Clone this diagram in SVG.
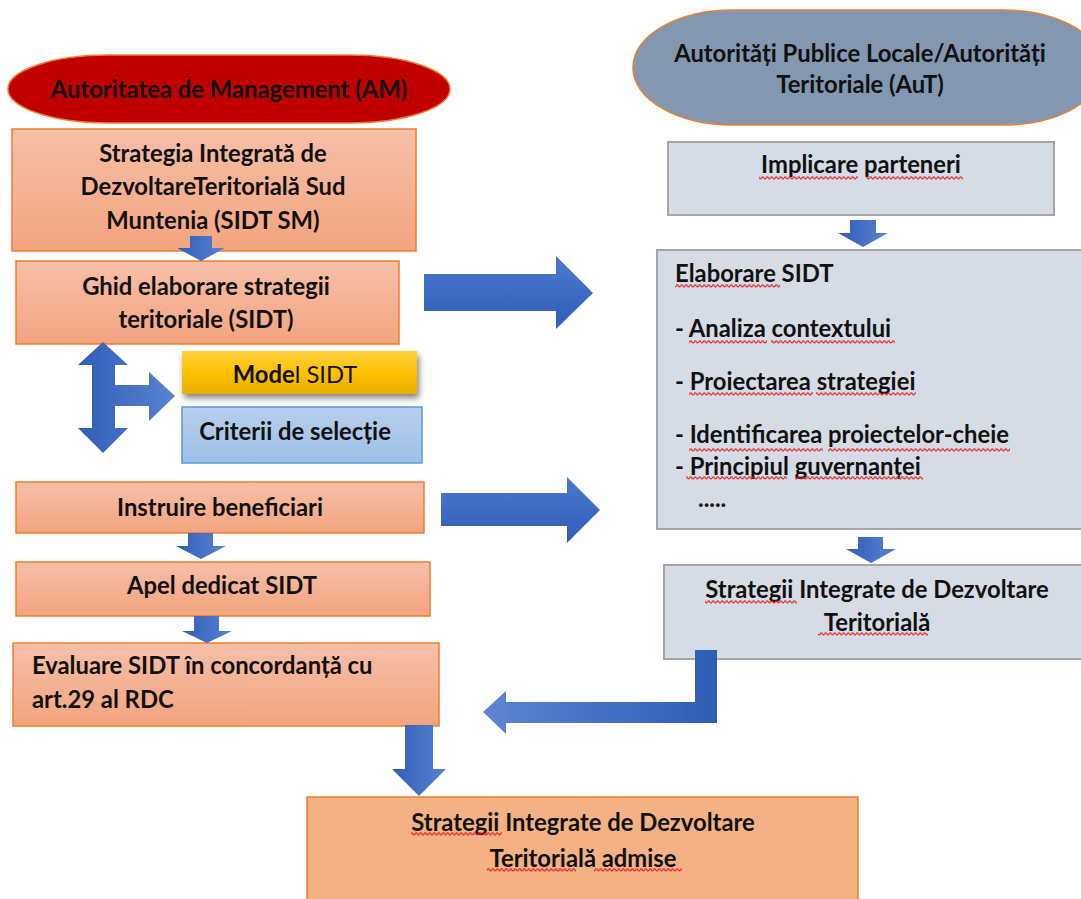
<svg xmlns="http://www.w3.org/2000/svg" width="1081" height="899" viewBox="0 0 1081 899">
<style>
text{font-family:Lato,"Open Sans","Liberation Sans",sans-serif;font-weight:700;font-size:23.8px;fill:#111}
.c{text-anchor:middle}
.or{stroke:#ED7D31;stroke-width:1.5}
.gr{fill:#D6DCE5;stroke:#A6A6A6;stroke-width:2}
.sq{fill:url(#wv)}
</style>
<defs>
<pattern id="wv" patternUnits="userSpaceOnUse" x="0" y="0" width="4.5" height="4">
<path d="M0,3 C1.1,3 1.1,0.8 2.25,0.8 C3.4,0.8 3.4,3 4.5,3" fill="none" stroke="#E81818" stroke-width="1.1"/>
</pattern>
<linearGradient id="gOr" x1="0" y1="0" x2="0" y2="1"><stop offset="0" stop-color="#F6BFA8"/><stop offset="1" stop-color="#F4A47F"/></linearGradient>
<linearGradient id="gGold" x1="0" y1="0" x2="0" y2="1"><stop offset="0" stop-color="#FFD13F"/><stop offset="0.5" stop-color="#FFC000"/><stop offset="1" stop-color="#E8B000"/></linearGradient>
<linearGradient id="gBl" x1="0" y1="0" x2="0" y2="1"><stop offset="0" stop-color="#B8CEEB"/><stop offset="1" stop-color="#9CBFE8"/></linearGradient>
<linearGradient id="aV" x1="0" y1="0" x2="0" y2="1"><stop offset="0" stop-color="#4B79CD"/><stop offset="1" stop-color="#2F5DB8"/></linearGradient>
<linearGradient id="aL" x1="0" y1="0" x2="1" y2="0"><stop offset="0" stop-color="#2F5DB8"/><stop offset="1" stop-color="#5A82D0"/></linearGradient>
<linearGradient id="aR" x1="0" y1="0" x2="1" y2="0"><stop offset="0" stop-color="#5E86D0"/><stop offset="1" stop-color="#2E5DB7"/></linearGradient>
<filter id="sh" x="-10%" y="-30%" width="125%" height="180%"><feGaussianBlur in="SourceAlpha" stdDeviation="3"/><feOffset dx="2" dy="4"/><feComponentTransfer><feFuncA type="linear" slope="0.5"/></feComponentTransfer><feMerge><feMergeNode/><feMergeNode in="SourceGraphic"/></feMerge></filter>
</defs>

<g id="node-am">
<rect x="8" y="55" width="442" height="68" rx="100" ry="34" fill="#C00000" class="or"/>
<text class="c" x="229" y="98">Autoritatea de Management (AM)</text>
</g>
<g id="node-sidt-sm">
<rect x="12" y="129" width="404" height="122" fill="url(#gOr)" class="or"/>
<text class="c" x="213" y="162">Strategia Integrată de</text>
<text class="c" x="213" y="195">DezvoltareTeritorială Sud</text>
<text class="c" x="213" y="229">Muntenia (SIDT SM)</text>
</g>
<g id="node-ghid">
<rect x="16" y="261" width="383" height="83" fill="url(#gOr)" class="or"/>
<text class="c" x="206" y="295">Ghid elaborare strategii</text>
<text class="c" x="206" y="328">teritoriale (SIDT)</text>
</g>
<g id="node-model">
<rect x="182" y="351" width="235" height="43" fill="url(#gGold)" filter="url(#sh)"/>
<text class="c" x="295" y="383">Mode<tspan font-weight="400">l SIDT</tspan></text>
</g>
<g id="node-criterii">
<rect x="182" y="407" width="240" height="56" fill="url(#gBl)" stroke="#5B9BD5" stroke-width="1.5"/>
<text class="c" x="295" y="440">Criterii de selecție</text>
</g>
<g id="node-instruire">
<rect x="16" y="482" width="408" height="51" fill="url(#gOr)" class="or"/>
<text class="c" x="220" y="516">Instruire beneficiari</text>
</g>
<g id="node-apel">
<rect x="16" y="562" width="414" height="54" fill="url(#gOr)" class="or"/>
<text class="c" x="222" y="594">Apel dedicat SIDT</text>
</g>
<g id="node-evaluare">
<rect x="13" y="643" width="426" height="83" fill="url(#gOr)" class="or"/>
<text x="32" y="674">Evaluare SIDT în concordanță cu</text>
<text x="32" y="708">art.29 al RDC</text>
</g>
<g id="node-aut">
<rect x="633" y="10" width="470" height="115" rx="100" ry="57" fill="#8497B0" class="or"/>
<text class="c" x="860" y="62">Autorități Publice Locale/Autorități</text>
<text class="c" x="860" y="93">Teritoriale (AuT)</text>
</g>
<g id="node-implicare">
<rect x="668" y="142" width="386" height="73" class="gr"/>
<text class="c" x="861" y="173">Implicare parteneri</text>
<rect class="sq" x="759" y="176" width="99" height="4"/>
<rect class="sq" x="866" y="176" width="97" height="4"/>
</g>
<g id="node-elaborare">
<rect x="657" y="250" width="440" height="279" class="gr"/>
<text x="675" y="282">Elaborare SIDT</text>
<text x="675" y="337">- Analiza contextului</text>
<text x="675" y="390">- Proiectarea strategiei</text>
<text x="675" y="443">- Identificarea proiectelor-cheie</text>
<text x="675" y="475">- Principiul guvernanței</text>
<text x="698" y="507">.....</text>
<rect class="sq" x="675" y="284" width="105" height="4"/>
<rect class="sq" x="689" y="340" width="78" height="4"/>
<rect class="sq" x="771" y="340" width="124" height="4"/>
<rect class="sq" x="689" y="392" width="124" height="4"/>
<rect class="sq" x="816" y="392" width="100" height="4"/>
<rect class="sq" x="689" y="448" width="134" height="4"/>
<rect class="sq" x="828" y="448" width="182" height="4"/>
<rect class="sq" x="686" y="476" width="101" height="4"/>
<rect class="sq" x="795" y="476" width="128" height="4"/>
</g>
<g id="node-sidt-right">
<rect x="664" y="565" width="440" height="94" class="gr"/>
<text class="c" x="877" y="598">Strategii Integrate de Dezvoltare</text>
<text class="c" x="877" y="631">Teritorială</text>
<rect class="sq" x="705" y="600" width="92" height="4"/>
<rect class="sq" x="818" y="632" width="110" height="4"/>
</g>
<g id="node-admise">
<rect x="307" y="797" width="551" height="115" fill="#F4B183" class="or"/>
<text class="c" x="583" y="831">Strategii Integrate de Dezvoltare</text>
<text class="c" x="583" y="867">Teritorială admise</text>
<rect class="sq" x="411" y="832" width="91" height="4"/>
<rect class="sq" x="487" y="868" width="89" height="4"/>
<rect class="sq" x="594" y="868" width="88" height="4"/>
</g>

<g id="connectors">
<polygon points="190,236 212,236 212,248 225,248 201,261 177,248 190,248" fill="url(#aL)"/>
<polygon points="103,342 128,365 115,365 115,385 149,385 149,372 175,396 149,421 149,406 115,406 115,428 128,428 103,453 78,428 92,428 92,365 78,365" fill="url(#aL)"/>
<polygon points="188,533 213,533 213,546 226,546 201,559 176,546 188,546" fill="url(#aL)"/>
<polygon points="194,616 219,616 219,631 232,631 207,643 182,631 194,631" fill="url(#aL)"/>
<polygon points="405,725 433,725 433,769 446,769 419,796 392,769 405,769" fill="url(#aL)"/>
<polygon points="424,274 556,274 556,256 593,293 556,329 556,311 424,311" fill="url(#aV)"/>
<polygon points="441,493 567,493 567,477 600,510 567,543 567,526 441,526" fill="url(#aV)"/>
<polygon points="850,220 876,220 876,233 888,233 863,247 838,233 850,233" fill="url(#aL)"/>
<polygon points="858,537 883,537 883,549 896,549 871,563 846,549 858,549" fill="url(#aL)"/>
<polygon points="695,650 717,650 717,723 506,723 506,734 483,712 506,691 506,702 695,702" fill="url(#aR)"/>
</g>
</svg>
